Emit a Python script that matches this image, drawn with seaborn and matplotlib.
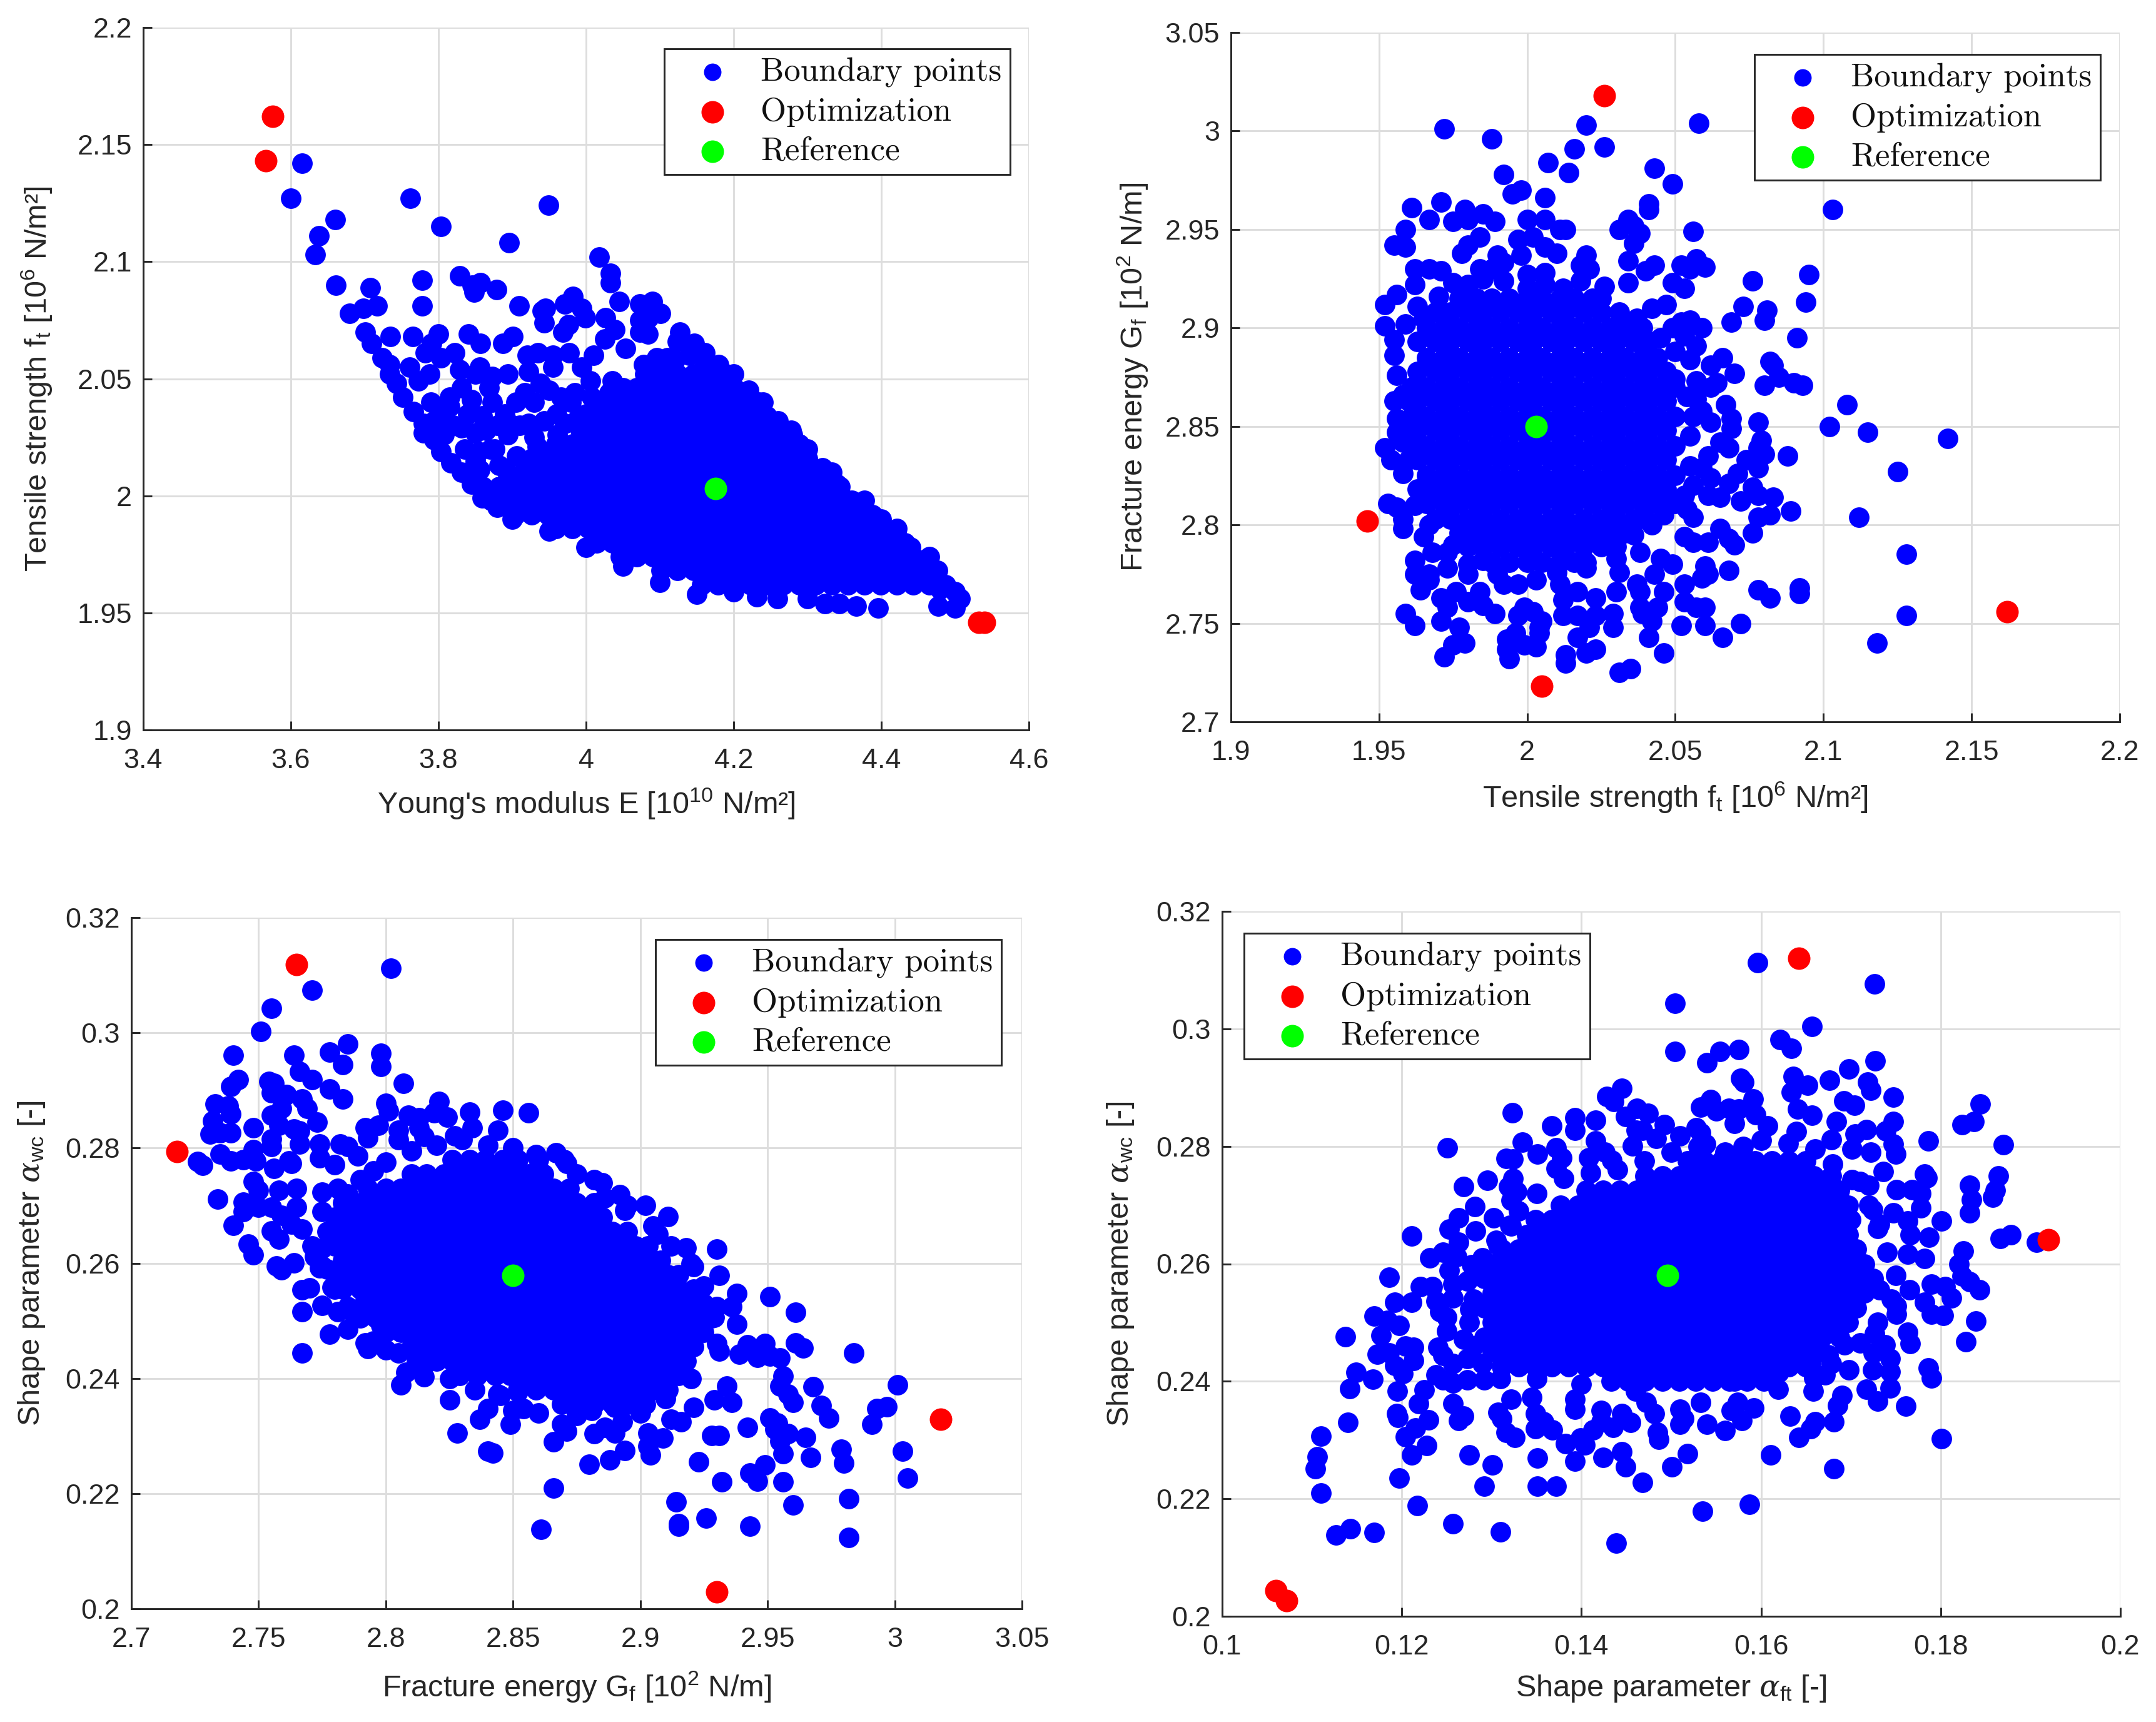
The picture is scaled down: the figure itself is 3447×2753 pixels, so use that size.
# -*- coding: utf-8 -*-
"""
Boundary points of the parameter identification, four pairwise projections.
All values read off the published figure.
"""
import pandas as pd
import matplotlib
matplotlib.use('Agg')
import matplotlib.pyplot as plt
import seaborn as sns

W, H = 3448, 2753

# --- Panel 1: Young's modulus vs tensile strength ---
p1_sparse = [
    (3.615,2.142),(3.6,2.127),(3.66,2.118),(3.638,2.111),(3.633,2.103),(3.661,2.09),(3.708,2.089),(3.68,2.078),
    (3.698,2.08),(3.717,2.081),(3.701,2.07),(3.709,2.065),(3.735,2.068),(3.765,2.068),(3.762,2.127),(3.803,2.115),
    (3.896,2.108),(3.949,2.124),(4.018,2.102),(4.033,2.095),(4.033,2.091),(3.778,2.092),(3.778,2.081),(3.829,2.094),
    (3.846,2.09),(3.848,2.087),(3.857,2.091),(3.879,2.088),(3.909,2.081),(3.941,2.079),(3.945,2.08),(3.943,2.074),
    (3.971,2.082),(3.982,2.085),(3.976,2.073),(3.969,2.07),(3.994,2.08),(3.999,2.076),(4.045,2.083),(4.026,2.076),
    (4.039,2.071),(4.025,2.067),(4.053,2.063),(4.073,2.082),(4.09,2.083),(4.101,2.078),(4.073,2.075),(4.085,2.076),
    (4.073,2.07),(4.084,2.069),(4.127,2.07),(4.124,2.066),(4.147,2.065),(4.161,2.061),(4.18,2.056),(3.8,2.069),
    (3.791,2.065),(3.782,2.061),(3.822,2.061),(3.803,2.059),(3.829,2.054),(3.856,2.055),(3.85,2.052),(3.841,2.069),
    (3.857,2.065),(3.901,2.068),(3.887,2.065),(3.92,2.06),(3.935,2.061),(3.955,2.06),(3.977,2.061),(4.01,2.06),
    (3.955,2.055),(3.994,2.055),(3.922,2.053),(3.938,2.048),(3.894,2.052),(3.873,2.051),(3.788,2.052),(3.773,2.049),
    (3.761,2.055),(3.917,2.044),(3.869,2.046),(3.831,2.046),(3.815,2.042),(3.815,2.038),(3.845,2.041),(3.873,2.04),
    (3.859,2.034),(3.89,2.035),(3.896,2.031),(3.831,2.029),(3.85,2.027),(3.864,2.028),(3.894,2.026),(3.922,2.031),
    (3.943,2.032),(3.966,2.042),(3.985,2.044),(4.008,2.042),(4.006,2.049),(4.036,2.049),(4.05,2.046),(4.031,2.044),
    (4.078,2.056),(4.096,2.059),(4.11,2.059),(3.724,2.059),(3.734,2.056),(3.734,2.052),(3.743,2.048),(3.752,2.042),
    (3.766,2.036),(3.78,2.031),(3.794,2.032),(3.78,2.027),(3.794,2.024),(3.808,2.026),(3.803,2.019),(3.817,2.014),
    (3.831,2.01),(3.845,2.005),(3.859,1.999),(3.836,2.02),(3.854,2.019),(3.876,2.02),(3.856,2.011),(3.882,2.013),
    (3.906,2.017),(3.934,2.021),(3.961,2.026),(3.989,2.033),(4.017,2.037),(3.971,2.031),(4.30,1.956),(4.324,1.954),
    (4.343,1.954),(4.366,1.953),(4.396,1.952),(4.477,1.953),(4.5,1.952),(4.5,1.959),(4.507,1.956),(4.459,1.965),
    (4.231,1.957),(4.259,1.956),(4.20,1.959),(3.79,2.04),(3.805,2.035),(3.82,2.03),(3.84,2.035),(3.88,2.03),
    (3.905,2.04),(3.93,2.04),(3.95,2.045),(3.96,2.035),(3.98,2.04),(4.0,2.035),(3.93,2.025),(3.85,2.015),(3.87,2.02),
    (3.84,2.01),(3.91,2.03),(4.14,2.06),(4.12,2.058),(4.16,2.055),(4.2,2.052),(4.22,2.045),(4.24,2.04),(4.26,2.032),
    (4.28,2.026),(4.30,2.02),(4.32,2.012),(4.34,2.005),(4.36,1.998),(4.40,1.99),(4.42,1.985),(4.44,1.978),
    (4.46,1.973),(4.47,1.967),(4.48,1.96),(3.88,1.995),(3.9,1.99),(3.95,1.985),(4.0,1.978),(4.05,1.97),(4.1,1.963),
    (4.15,1.958),
]
p1_dense = [
    (2.052, [4.080,4.102,4.124,4.146,4.168,4.190]),
    (2.046, [4.047,4.069,4.091,4.113,4.135,4.157,4.179,4.201]),
    (2.040, [4.036,4.058,4.080,4.102,4.124,4.146,4.168,4.190,4.212,4.234]),
    (2.034, [4.003,4.025,4.047,4.069,4.091,4.113,4.135,4.157,4.179,4.201,4.223,4.245]),
    (2.028, [3.992,4.014,4.036,4.058,4.080,4.102,4.124,4.146,4.168,4.190,4.212,4.234,4.256,4.278]),
    (2.022, [3.959,3.981,4.003,4.025,4.047,4.069,4.091,4.113,4.135,4.157,4.179,4.201,4.223,4.245,4.267,4.289]),
    (2.016, [3.926,3.948,3.970,3.992,4.014,4.036,4.058,4.080,4.102,4.124,4.146,4.168,4.190,4.212,4.234,4.256,4.278,4.300]),
    (2.010, [3.893,3.915,3.937,3.959,3.981,4.003,4.025,4.047,4.069,4.091,4.113,4.135,4.157,4.179,4.201,4.223,4.245,4.267,4.289,4.311,4.333]),
    (2.004, [3.860,3.882,3.904,3.926,3.948,3.970,3.992,4.014,4.036,4.058,4.080,4.102,4.124,4.146,4.168,4.190,4.212,4.234,4.256,4.278,4.300,4.322,4.344]),
    (1.998, [3.871,3.893,3.915,3.937,3.959,3.981,4.003,4.025,4.047,4.069,4.091,4.113,4.135,4.157,4.179,4.201,4.223,4.245,4.267,4.289,4.311,4.333,4.355,4.377]),
    (1.992, [3.904,3.926,3.948,3.970,3.992,4.014,4.036,4.058,4.080,4.102,4.124,4.146,4.168,4.190,4.212,4.234,4.256,4.278,4.300,4.322,4.344,4.366,4.388]),
    (1.986, [3.959,3.981,4.003,4.025,4.047,4.069,4.091,4.113,4.135,4.157,4.179,4.201,4.223,4.245,4.267,4.289,4.311,4.333,4.355,4.377,4.399,4.421]),
    (1.980, [4.014,4.036,4.058,4.080,4.102,4.124,4.146,4.168,4.190,4.212,4.234,4.256,4.278,4.300,4.322,4.344,4.366,4.388,4.410,4.432]),
    (1.974, [4.047,4.069,4.091,4.113,4.135,4.157,4.179,4.201,4.223,4.245,4.267,4.289,4.311,4.333,4.355,4.377,4.399,4.421,4.443,4.465]),
    (1.968, [4.102,4.124,4.146,4.168,4.190,4.212,4.234,4.256,4.278,4.300,4.322,4.344,4.366,4.388,4.410,4.432,4.454,4.476]),
    (1.962, [4.157,4.179,4.201,4.223,4.245,4.267,4.289,4.311,4.333,4.355,4.377,4.399,4.421,4.443,4.465,4.487]),
]
p1_opt = [(3.575,2.162),(3.566,2.143),(4.532,1.946),(4.54,1.946)]
p1_ref = [(4.175,2.003)]

# --- Panel 2: tensile strength vs fracture energy ---
p2_sparse = [
    (1.972,3.001),(1.988,2.996),(2.02,3.003),(2.026,2.992),(2.016,2.991),(2.058,3.004),(2.007,2.984),(2.014,2.979),
    (1.992,2.978),(2.043,2.981),(2.049,2.973),(1.998,2.97),(1.995,2.968),(2.006,2.966),(2.041,2.963),(2.041,2.96),
    (2.103,2.96),(1.971,2.964),(1.961,2.961),(1.979,2.96),(1.985,2.958),(1.967,2.955),(1.975,2.954),(1.98,2.955),
    (1.989,2.954),(2.0,2.955),(2.006,2.955),(2.013,2.95),(2.011,2.95),(2.031,2.95),(2.034,2.955),(2.036,2.952),
    (2.038,2.948),(2.036,2.943),(1.959,2.95),(1.955,2.942),(1.959,2.941),(1.984,2.946),(1.98,2.942),(1.978,2.938),
    (1.997,2.945),(2.002,2.946),(2.006,2.941),(2.01,2.938),(1.998,2.937),(2.056,2.949),(2.02,2.937),(2.018,2.932),
    (2.021,2.93),(2.034,2.934),(2.043,2.932),(2.04,2.929),(2.034,2.923),(2.052,2.932),(2.055,2.93),(2.057,2.935),
    (2.06,2.931),(2.095,2.927),(2.076,2.924),(2.094,2.913),(2.073,2.911),(2.081,2.909),(2.08,2.904),(2.069,2.903),
    (2.091,2.895),(1.99,2.937),(1.992,2.933),(1.984,2.93),(1.988,2.93),(1.962,2.93),(1.967,2.93),(1.971,2.929),
    (1.962,2.922),(2.0,2.927),(2.006,2.928),(2.026,2.921),(2.053,2.92),(2.049,2.923),(1.952,2.912),(1.956,2.917),
    (1.952,2.901),(1.955,2.894),(1.955,2.886),(1.956,2.876),(1.963,2.911),(1.959,2.902),(2.059,2.9),(2.055,2.904),
    (2.049,2.9),(2.057,2.891),(2.053,2.896),(2.055,2.884),(2.066,2.885),(2.062,2.881),(2.07,2.877),(2.064,2.872),
    (2.057,2.873),(2.062,2.87),(2.05,2.874),(2.082,2.883),(2.083,2.881),(2.085,2.875),(2.08,2.871),(2.09,2.872),
    (2.093,2.871),(2.108,2.861),(2.102,2.85),(2.115,2.847),(2.142,2.844),(2.125,2.827),(2.078,2.852),(2.067,2.861),
    (2.069,2.854),(2.069,2.849),(2.062,2.852),(2.057,2.864),(2.059,2.858),(2.079,2.843),(2.08,2.836),(2.078,2.839),
    (2.088,2.835),(2.074,2.833),(2.078,2.829),(2.071,2.826),(2.065,2.842),(2.068,2.839),(2.061,2.835),(2.059,2.829),
    (2.062,2.824),(2.056,2.82),(2.068,2.821),(2.076,2.819),(2.061,2.815),(2.065,2.814),(2.078,2.815),(2.083,2.814),
    (2.072,2.812),(2.089,2.807),(2.078,2.804),(2.082,2.805),(2.112,2.804),(2.065,2.798),(2.076,2.796),(2.068,2.793),
    (2.07,2.79),(2.054,2.808),(2.056,2.804),(2.053,2.794),(2.056,2.791),(2.061,2.791),(2.128,2.785),(2.068,2.777),
    (2.06,2.779),(2.061,2.775),(2.059,2.773),(2.053,2.77),(2.045,2.783),(2.049,2.78),(2.038,2.786),(2.03,2.783),
    (2.031,2.776),(2.092,2.768),(2.092,2.765),(2.078,2.767),(2.082,2.763),(2.128,2.754),(2.118,2.74),(2.072,2.75),
    (2.066,2.743),(2.052,2.749),(2.06,2.749),(2.06,2.758),(2.057,2.758),(2.053,2.761),(2.046,2.735),(2.041,2.743),
    (2.042,2.751),(2.044,2.758),(2.038,2.758),(2.039,2.755),(2.046,2.766),(2.043,2.775),(2.037,2.77),(2.038,2.766),
    (2.029,2.748),(2.029,2.755),(2.03,2.766),(2.023,2.754),(2.021,2.748),(2.023,2.737),(2.02,2.735),(2.017,2.743),
    (2.012,2.754),(2.017,2.754),(2.017,2.766),(2.023,2.763),(2.011,2.77),(2.012,2.762),(2.035,2.727),(2.031,2.725),
    (2.013,2.734),(2.013,2.73),(2.005,2.751),(2.004,2.745),(2.003,2.738),(1.999,2.739),(1.994,2.732),(1.993,2.737),
    (1.993,2.742),(1.996,2.745),(2.004,2.748),(2.002,2.756),(1.999,2.758),(1.997,2.754),(1.989,2.755),(1.979,2.74),
    (1.975,2.739),(1.972,2.733),(1.977,2.748),(1.971,2.751),(1.962,2.749),(1.959,2.755),(1.985,2.759),(1.98,2.761),
    (1.976,2.766),(1.971,2.763),(1.973,2.758),(1.984,2.766),(1.98,2.775),(1.973,2.778),(1.967,2.775),(1.964,2.767),
    (1.962,2.775),(1.962,2.782),(1.967,2.772),(1.997,2.77),(2.003,2.772),(1.992,2.77),(1.958,2.798),(1.958,2.803),
    (1.953,2.811),(1.956,2.809),(1.952,2.839),(1.954,2.833),(1.958,2.826),(1.955,2.863),(1.956,2.847),(1.956,2.854),
    (1.965,2.794),(1.968,2.786),(1.973,2.786),(1.975,2.923),(1.98,2.922),(1.985,2.925),(1.992,2.924),(2.0,2.92),
    (2.006,2.922),(2.012,2.92),(2.018,2.924),(2.025,2.915),(2.031,2.908),(2.037,2.905),(2.042,2.91),(2.047,2.912),
    (2.052,2.903),(2.045,2.895),(2.05,2.888),(1.958,2.866),(1.958,2.842),(1.962,2.81),(1.967,2.8),(1.975,2.79),
    (1.98,2.78),(1.985,2.782),(1.99,2.775),(2.01,2.776),(2.02,2.778),(2.028,2.79),(2.036,2.795),(2.042,2.8),
    (2.046,2.805),(2.053,2.815),(2.055,2.83),(2.055,2.845),(2.056,2.855),(2.054,2.865),(1.97,2.916),(1.965,2.905),
]
p2_dense = [
    (2.915, [1.977,1.983,1.988,1.994,2.000,2.005,2.011,2.016,2.022]),
    (2.908, [1.969,1.974,1.980,1.985,1.991,1.997,2.002,2.008,2.013,2.019,2.025]),
    (2.900, [1.966,1.972,1.977,1.983,1.988,1.994,2.000,2.005,2.011,2.016,2.022,2.028,2.033,2.039]),
    (2.893, [1.963,1.969,1.974,1.980,1.985,1.991,1.997,2.002,2.008,2.013,2.019,2.025,2.030,2.036,2.041]),
    (2.885, [1.966,1.972,1.977,1.983,1.988,1.994,2.000,2.005,2.011,2.016,2.022,2.028,2.033,2.039,2.044]),
    (2.878, [1.963,1.969,1.974,1.980,1.985,1.991,1.997,2.002,2.008,2.013,2.019,2.025,2.030,2.036,2.041,2.047]),
    (2.870, [1.961,1.966,1.972,1.977,1.983,1.988,1.994,2.000,2.005,2.011,2.016,2.022,2.028,2.033,2.039,2.044,2.050]),
    (2.863, [1.960,1.963,1.969,1.974,1.980,1.985,1.991,1.997,2.002,2.008,2.013,2.019,2.025,2.030,2.036,2.041,2.047]),
    (2.855, [1.961,1.966,1.972,1.977,1.983,1.988,1.994,2.000,2.005,2.011,2.016,2.022,2.028,2.033,2.039,2.044,2.050]),
    (2.848, [1.960,1.963,1.969,1.974,1.980,1.985,1.991,1.997,2.002,2.008,2.013,2.019,2.025,2.030,2.036,2.041,2.047]),
    (2.840, [1.961,1.966,1.972,1.977,1.983,1.988,1.994,2.000,2.005,2.011,2.016,2.022,2.028,2.033,2.039,2.044,2.050]),
    (2.833, [1.960,1.963,1.969,1.974,1.980,1.985,1.991,1.997,2.002,2.008,2.013,2.019,2.025,2.030,2.036,2.041,2.047]),
    (2.825, [1.966,1.972,1.977,1.983,1.988,1.994,2.000,2.005,2.011,2.016,2.022,2.028,2.033,2.039,2.044,2.050]),
    (2.818, [1.963,1.969,1.974,1.980,1.985,1.991,1.997,2.002,2.008,2.013,2.019,2.025,2.030,2.036,2.041,2.047]),
    (2.811, [1.966,1.972,1.977,1.983,1.988,1.994,2.000,2.005,2.011,2.016,2.022,2.028,2.033,2.039,2.044,2.050]),
    (2.803, [1.969,1.974,1.980,1.985,1.991,1.997,2.002,2.008,2.013,2.019,2.025,2.030,2.036,2.040]),
    (2.796, [1.977,1.983,1.988,1.994,2.000,2.005,2.011,2.016,2.022,2.028,2.033]),
    (2.789, [1.980,1.985,1.991,1.997,2.002,2.008,2.013,2.019,2.025,2.030]),
    (2.781, [1.988,1.994,2.000,2.005,2.011,2.016,2.020]),
]
p2_opt = [(2.026,3.018),(1.946,2.802),(2.162,2.756),(2.005,2.718)]
p2_ref = [(2.003,2.85)]

# --- Panel 3: fracture energy vs shape parameter alpha_wc ---
p3_sparse = [
    (2.802,.3112),(2.771,.3074),(2.755,.3042),(2.751,.3002),(2.74,.2961),(2.764,.2961),(2.778,.2967),(2.785,.2981),
    (2.783,.2945),(2.798,.2964),(2.798,.2942),(2.807,.2912),(2.766,.2933),(2.771,.2919),(2.778,.2902),(2.783,.2885),
    (2.742,.2919),(2.739,.2907),(2.754,.2915),(2.756,.2912),(2.755,.2896),(2.761,.2893),(2.759,.2869),(2.755,.2857),
    (2.733,.2876),(2.738,.2873),(2.739,.2859),(2.732,.2847),(2.731,.2824),(2.735,.2826),(2.739,.2826),(2.748,.2835),
    (2.758,.284),(2.755,.2816),(2.755,.2802),(2.764,.2833),(2.767,.2885),(2.769,.2869),(2.773,.2845),(2.766,.283),
    (2.766,.2807),(2.774,.2807),(2.774,.2783),(2.78,.2771),(2.782,.2807),(2.785,.2802),(2.789,.2786),(2.726,.2776),
    (2.728,.277),(2.735,.2789),(2.739,.2778),(2.744,.278),(2.749,.2778),(2.748,.2797),(2.763,.2773),(2.756,.2764),
    (2.762,.2778),(2.748,.2742),(2.75,.2726),(2.765,.273),(2.758,.2727),(2.734,.2711),(2.744,.2706),(2.744,.269),
    (2.75,.2697),(2.755,.2697),(2.765,.2697),(2.775,.2723),(2.781,.273),(2.74,.2666),(2.755,.2656),(2.758,.2642),
    (2.759,.2683),(2.763,.2668),(2.767,.2659),(2.746,.2633),(2.748,.2615),(2.757,.2595),(2.759,.2589),(2.764,.2601),
    (2.771,.263),(2.772,.2611),(2.775,.2595),(2.774,.2592),(2.767,.2554),(2.77,.2557),(2.779,.2558),(2.767,.2516),
    (2.775,.2527),(2.781,.2516),(2.786,.2518),(2.778,.2477),(2.785,.2485),(2.767,.2444),(2.792,.2461),(2.793,.2452),
    (2.792,.2535),(2.798,.2492),(2.805,.2444),(2.808,.241),(2.806,.2389),(2.815,.2403),(2.817,.243),(2.825,.2363),
    (2.828,.2305),(2.8,.2878),(2.801,.2864),(2.792,.2835),(2.793,.2818),(2.797,.284),(2.809,.2857),(2.813,.2852),
    (2.821,.2881),(2.819,.2861),(2.824,.2854),(2.833,.2862),(2.846,.2866),(2.856,.2861),(2.834,.2835),(2.844,.2831),
    (2.827,.2821),(2.805,.2831),(2.813,.2835),(2.867,.2792),(2.871,.2773),(2.859,.2788),(2.882,.2745),(2.886,.2714),
    (2.892,.2719),(2.902,.27),(2.911,.2681),(2.907,.2651),(2.894,.2692),(2.918,.2627),(2.93,.2624),(2.921,.2594),
    (2.931,.2579),(2.938,.2547),(2.936,.2525),(2.951,.2542),(2.961,.2515),(2.938,.2494),(2.929,.2506),(2.961,.2461),
    (2.964,.2453),(2.984,.2444),(2.942,.2458),(2.949,.246),(2.939,.2442),(2.946,.2437),(2.955,.2436),(2.951,.2439),
    (2.931,.2447),(2.956,.2404),(2.955,.2387),(2.968,.2385),(3.001,.2389),(2.958,.2372),(2.96,.2358),(2.971,.2353),
    (2.974,.2331),(2.936,.2358),(2.934,.2387),(2.929,.2363),(2.921,.235),(2.997,.2351),(2.993,.2347),(2.991,.232),
    (2.951,.2331),(2.954,.2323),(2.953,.2312),(2.958,.2304),(2.965,.2298),(2.955,.2291),(2.956,.2269),(2.967,.2263),
    (2.979,.2277),(2.98,.2253),(3.003,.2274),(3.005,.2227),(2.942,.2315),(2.928,.2301),(2.931,.2301),(2.916,.2325),
    (2.912,.2329),(2.923,.2255),(2.909,.2296),(2.903,.2305),(2.903,.2282),(2.904,.2267),(2.894,.2275),(2.888,.2258),
    (2.88,.2251),(2.89,.2305),(2.882,.2304),(2.886,.2315),(2.893,.2325),(2.875,.2336),(2.881,.2344),(2.869,.232),
    (2.871,.2308),(2.866,.229),(2.837,.2329),(2.84,.2347),(2.84,.2274),(2.842,.227),(2.849,.232),(2.85,.2344),
    (2.854,.2347),(2.844,.2372),(2.852,.2377),(2.866,.221),(2.861,.2138),(2.914,.2186),(2.915,.2148),(2.915,.2143),
    (2.926,.2158),(2.932,.222),(2.943,.2236),(2.946,.2221),(2.949,.225),(2.956,.222),(2.96,.218),(2.943,.2143),
    (2.982,.2191),(2.982,.2124),(2.80,.2775),(2.81,.2795),(2.82,.2805),(2.83,.2815),(2.84,.2805),(2.85,.28),
    (2.86,.278),(2.805,.2815),(2.815,.282),(2.795,.276),(2.79,.2745),(2.785,.272),(2.775,.269),(2.78,.2645),
    (2.775,.2625),(2.777,.259),(2.78,.2555),(2.785,.2525),(2.79,.2505),(2.795,.2465),(2.8,.245),(2.812,.243),
    (2.825,.24),(2.835,.238),(2.845,.237),(2.86,.234),(2.875,.234),(2.89,.235),(2.9,.234),(2.91,.2365),(2.92,.24),
    (2.93,.246),(2.93,.2525),(2.925,.256),(2.92,.26),(2.912,.263),(2.905,.2665),(2.895,.27),(2.885,.274),
    (2.875,.2755),(2.87,.278),
]
p3_dense = [
    (.2780, [2.826,2.833,2.839,2.846,2.852]),
    (.2755, [2.810,2.816,2.823,2.829,2.836,2.843,2.849,2.856,2.862]),
    (.2730, [2.793,2.800,2.806,2.813,2.820,2.826,2.833,2.839,2.846,2.852,2.859,2.866,2.872]),
    (.2705, [2.783,2.790,2.796,2.803,2.810,2.816,2.823,2.829,2.836,2.843,2.849,2.856,2.862,2.869,2.875,2.882]),
    (.2680, [2.780,2.787,2.793,2.800,2.806,2.813,2.820,2.826,2.833,2.839,2.846,2.852,2.859,2.866,2.872,2.879,2.885]),
    (.2655, [2.777,2.783,2.790,2.796,2.803,2.810,2.816,2.823,2.829,2.836,2.843,2.849,2.856,2.862,2.869,2.875,2.882,2.889,2.895]),
    (.2630, [2.780,2.787,2.793,2.800,2.806,2.813,2.820,2.826,2.833,2.839,2.846,2.852,2.859,2.866,2.872,2.879,2.885,2.892,2.898,2.903]),
    (.2605, [2.783,2.790,2.796,2.803,2.810,2.816,2.823,2.829,2.836,2.843,2.849,2.856,2.862,2.869,2.875,2.882,2.889,2.895,2.902,2.908]),
    (.2580, [2.782,2.787,2.793,2.800,2.806,2.813,2.820,2.826,2.833,2.839,2.846,2.852,2.859,2.866,2.872,2.879,2.885,2.892,2.898,2.905,2.911,2.915]),
    (.2555, [2.783,2.790,2.796,2.803,2.810,2.816,2.823,2.829,2.836,2.843,2.849,2.856,2.862,2.869,2.875,2.882,2.889,2.895,2.902,2.908,2.915,2.921]),
    (.2530, [2.793,2.800,2.806,2.813,2.820,2.826,2.833,2.839,2.846,2.852,2.859,2.866,2.872,2.879,2.885,2.892,2.898,2.905,2.911,2.918,2.925]),
    (.2505, [2.796,2.803,2.810,2.816,2.823,2.829,2.836,2.843,2.849,2.856,2.862,2.869,2.875,2.882,2.889,2.895,2.902,2.908,2.915,2.921,2.928]),
    (.2480, [2.800,2.806,2.813,2.820,2.826,2.833,2.839,2.846,2.852,2.859,2.866,2.872,2.879,2.885,2.892,2.898,2.905,2.911,2.918,2.925]),
    (.2455, [2.810,2.816,2.823,2.829,2.836,2.843,2.849,2.856,2.862,2.869,2.875,2.882,2.889,2.895,2.902,2.908,2.915,2.921]),
    (.2430, [2.820,2.826,2.833,2.839,2.846,2.852,2.859,2.866,2.872,2.879,2.885,2.892,2.898,2.905,2.911,2.918]),
    (.2405, [2.829,2.836,2.843,2.849,2.856,2.862,2.869,2.875,2.882,2.889,2.895,2.902,2.908,2.915]),
    (.2380, [2.852,2.859,2.866,2.872,2.879,2.885,2.892,2.898,2.905,2.911]),
    (.2355, [2.869,2.875,2.882,2.889,2.895,2.902]),
]
p3_opt = [(2.765,.3119),(2.718,.2794),(3.018,.2329),(2.93,.2029)]
p3_ref = [(2.85,.2579)]

# --- Panel 4: shape parameter alpha_ft vs alpha_wc ---
p4_sparse = [
    (.1596,.3113),(.1726,.3076),(.1504,.3044),(.1657,.3004),(.1504,.2961),(.1554,.2961),(.1575,.2965),(.1621,.2982),
    (.1634,.2967),(.154,.2942),(.1727,.2945),(.1698,.2932),(.1636,.2919),(.1676,.2913),(.1652,.2904),(.1634,.2892),
    (.1577,.2916),(.1581,.2909),(.1719,.2909),(.1722,.2896),(.1747,.2884),(.1591,.2881),(.1692,.2877),(.1704,.287),
    (.1445,.2899),(.1428,.2885),(.1436,.2876),(.1449,.2851),(.1462,.2865),(.1474,.2856),(.1544,.2879),(.1533,.2867),
    (.155,.286),(.1564,.2865),(.1575,.2863),(.1594,.2854),(.1641,.2863),(.1657,.2853),(.157,.2839),(.1607,.2835),
    (.1639,.2825),(.1684,.2842),(.1747,.2842),(.1739,.2826),(.1717,.2828),(.1705,.2821),(.1678,.2811),(.1824,.2837),
    (.1837,.2842),(.1844,.2872),(.187,.2803),(.1786,.2809),(.1747,.2804),(.175,.2787),(.1722,.279),(.1701,.2795),
    (.1323,.2857),(.1367,.2835),(.1393,.2849),(.1393,.2827),(.1416,.2844),(.1416,.2809),(.1334,.2807),(.1251,.2798),
    (.1372,.2797),(.1351,.2787),(.1378,.2781),(.1316,.2779),(.1324,.2778),(.1408,.2781),(.1426,.279),(.1434,.2776),
    (.1457,.2801),(.1461,.2827),(.1468,.2827),(.1492,.2837),(.1483,.2813),(.151,.2818),(.1528,.2832),(.1533,.2823),
    (.1538,.2804),(.1372,.2762),(.1295,.2742),(.1269,.2732),(.1324,.2745),(.1319,.2732),(.1328,.2723),(.1322,.2708),
    (.1281,.2697),(.1263,.2678),(.1253,.2659),(.1282,.2656),(.1263,.2637),(.1302,.2678),(.1322,.2664),(.1211,.2647),
    (.1231,.261),(.1246,.262),(.1261,.2612),(.1278,.2598),(.1292,.2589),(.1253,.2589),(.1307,.2631),(.1186,.2577),
    (.1221,.2561),(.1234,.2561),(.1257,.2565),(.1273,.2571),(.1192,.2535),(.1211,.2535),(.1238,.2537),(.1257,.2542),
    (.1169,.2511),(.1184,.2504),(.1197,.2495),(.1177,.2478),(.1137,.2476),(.125,.2509),(.1242,.2519),(.1276,.2523),
    (.125,.2486),(.1173,.2446),(.1186,.2448),(.1204,.246),(.1213,.2458),(.1192,.2427),(.1213,.2436),(.1201,.2413),
    (.1149,.2415),(.1168,.2404),(.1142,.2388),(.1195,.2383),(.1225,.2385),(.1219,.2362),(.1238,.2411),(.1246,.2402),
    (.124,.2458),(.1246,.2444),(.1257,.243),(.1273,.2439),(.1257,.2397),(.1273,.2402),(.1292,.2402),(.1269,.2472),
    (.1194,.2345),(.1196,.2339),(.114,.233),(.123,.2334),(.1215,.232),(.1204,.2306),(.1211,.2275),(.1228,.2291),
    (.111,.2307),(.1106,.2272),(.1104,.2251),(.111,.221),(.1197,.2235),(.1217,.2188),(.1127,.2138),(.1143,.2149),
    (.1169,.2143),(.1257,.2158),(.131,.2144),(.1257,.2362),(.1263,.2333),(.1269,.2341),(.1275,.2275),(.1301,.2258),
    (.1292,.2222),(.1307,.2347),(.1311,.2336),(.1316,.2313),(.1326,.2305),(.1322,.2369),(.1345,.2373),(.1349,.2345),
    (.1349,.2319),(.1358,.2331),(.1368,.2317),(.1382,.2294),(.1351,.2269),(.1351,.2222),(.1372,.2222),(.1393,.2369),
    (.1393,.2352),(.1399,.2303),(.1404,.2292),(.1393,.2264),(.1413,.2317),(.1422,.235),(.1422,.2331),(.1435,.2322),
    (.1445,.2345),(.1455,.233),(.1424,.227),(.1445,.228),(.1449,.2255),(.1468,.2228),(.1485,.2313),(.1486,.2301),
    (.1501,.2254),(.1518,.2277),(.1481,.2345),(.1472,.2364),(.146,.2383),(.151,.2352),(.151,.2327),(.1514,.2336),
    (.1533,.2364),(.154,.2327),(.156,.2316),(.1567,.235),(.1574,.2364),(.1579,.2333),(.1592,.2355),(.1632,.2341),
    (.1619,.2386),(.1658,.2383),(.1642,.2305),(.1655,.2319),(.166,.2331),(.1681,.2331),(.1685,.2359),(.169,.2376),
    (.1717,.2387),(.173,.2366),(.1761,.2358),(.1744,.2389),(.1801,.2302),(.1611,.2275),(.1681,.2251),(.1587,.2191),
    (.1535,.2179),(.1439,.2125),(.1698,.242),(.1671,.2411),(.1659,.2406),(.1678,.243),(.1693,.2462),(.1724,.242),
    (.1744,.2439),(.1744,.2416),(.1725,.2448),(.1738,.2462),(.1726,.2481),(.1763,.2483),(.1766,.2464),(.1751,.2528),
    (.1732,.2556),(.1751,.2514),(.1786,.2423),(.179,.2406),(.1828,.2467),(.1839,.2503),(.1843,.2556),(.1832,.257),
    (.1824,.2579),(.182,.26),(.1825,.2622),(.1812,.2542),(.1805,.2561),(.179,.2565),(.179,.2514),(.1782,.2535),
    (.1803,.2512),(.1765,.2556),(.1782,.2609),(.1763,.2617),(.1787,.2645),(.1801,.2673),(.1778,.2695),(.1763,.2673),
    (.1766,.265),(.1747,.2687),(.1732,.2668),(.1724,.2692),(.1751,.2726),(.1768,.2726),(.1778,.272),(.172,.2734),
    (.1701,.2743),(.1736,.2757),(.1782,.2753),(.1785,.2746),(.1832,.2734),(.1834,.2709),(.1832,.2687),(.1864,.275),
    (.1861,.2725),(.1858,.2713),(.1866,.2643),(.1878,.265),(.1907,.2637),(.135,.272),(.138,.2745),(.141,.2755),
    (.144,.276),(.147,.2775),(.15,.279),(.153,.28),(.156,.279),(.158,.28),(.16,.281),(.163,.2805),(.166,.2795),
    (.168,.277),(.171,.274),(.172,.27),(.173,.266),(.174,.262),(.175,.258),(.1745,.254),(.173,.25),(.171,.2465),
    (.1675,.2445),(.1655,.243),(.162,.2415),(.157,.24),(.14,.2395),(.135,.2405),(.131,.2405),(.129,.243),(.128,.246),
    (.1275,.25),(.128,.254),(.1285,.258),(.129,.261),(.1305,.264),(.132,.2665),(.133,.269),
]
p4_dense = [
    (.2775, [.1518,.1537,.1556,.1574,.1593,.1612,.1631,.1650]),
    (.2750, [.1471,.1490,.1509,.1527,.1546,.1565,.1584,.1603,.1621,.1640,.1659,.1678]),
    (.2725, [.1405,.1424,.1443,.1462,.1480,.1499,.1518,.1537,.1556,.1574,.1593,.1612,.1631,.1650,.1668,.1687]),
    (.2700, [.1377,.1396,.1414,.1433,.1452,.1471,.1490,.1509,.1527,.1546,.1565,.1584,.1603,.1621,.1640,.1659,.1678,.1697]),
    (.2675, [.1349,.1367,.1386,.1405,.1424,.1443,.1462,.1480,.1499,.1518,.1537,.1556,.1574,.1593,.1612,.1631,.1650,.1668,.1687,.1700]),
    (.2650, [.1339,.1358,.1377,.1396,.1414,.1433,.1452,.1471,.1490,.1509,.1527,.1546,.1565,.1584,.1603,.1621,.1640,.1659,.1678,.1697]),
    (.2625, [.1311,.1330,.1349,.1367,.1386,.1405,.1424,.1443,.1462,.1480,.1499,.1518,.1537,.1556,.1574,.1593,.1612,.1631,.1650,.1668,.1687,.1706]),
    (.2600, [.1301,.1320,.1339,.1358,.1377,.1396,.1414,.1433,.1452,.1471,.1490,.1509,.1527,.1546,.1565,.1584,.1603,.1621,.1640,.1659,.1678,.1697,.1715]),
    (.2575, [.1292,.1311,.1330,.1349,.1367,.1386,.1405,.1424,.1443,.1462,.1480,.1499,.1518,.1537,.1556,.1574,.1593,.1612,.1631,.1650,.1668,.1687,.1706,.1725]),
    (.2550, [.1301,.1320,.1339,.1358,.1377,.1396,.1414,.1433,.1452,.1471,.1490,.1509,.1527,.1546,.1565,.1584,.1603,.1621,.1640,.1659,.1678,.1697,.1715]),
    (.2525, [.1292,.1311,.1330,.1349,.1367,.1386,.1405,.1424,.1443,.1462,.1480,.1499,.1518,.1537,.1556,.1574,.1593,.1612,.1631,.1650,.1668,.1687,.1706]),
    (.2500, [.1301,.1320,.1339,.1358,.1377,.1396,.1414,.1433,.1452,.1471,.1490,.1509,.1527,.1546,.1565,.1584,.1603,.1621,.1640,.1659,.1678,.1697]),
    (.2475, [.1292,.1311,.1330,.1349,.1367,.1386,.1405,.1424,.1443,.1462,.1480,.1499,.1518,.1537,.1556,.1574,.1593,.1612,.1631,.1650,.1668,.1687]),
    (.2450, [.1301,.1320,.1339,.1358,.1377,.1396,.1414,.1433,.1452,.1471,.1490,.1509,.1527,.1546,.1565,.1584,.1603,.1621,.1640,.1659]),
    (.2425, [.1311,.1330,.1349,.1367,.1386,.1405,.1424,.1443,.1462,.1480,.1499,.1518,.1537,.1556,.1574,.1593,.1612,.1631,.1650]),
    (.2400, [.1433,.1452,.1471,.1490,.1509,.1527,.1546,.1565,.1584,.1603]),
]
p4_opt = [(.1642,.312),(.192,.2641),(.106,.2044),(.1072,.2027)]
p4_ref = [(.1496,.258)]

# --- axes labels and ticks ---
xlabels = ["Young's modulus E [$10^{10}$ N/m²]",
           "Tensile strength f$_{\\mathrm{t}}$ [$10^{6}$ N/m²]",
           "Fracture energy G$_{\\mathrm{f}}$ [$10^{2}$ N/m]",
           "Shape parameter $\\alpha_{\\mathrm{ft}}$ [-]"]
ylabels = ["Tensile strength f$_{\\mathrm{t}}$ [$10^{6}$ N/m²]",
           "Fracture energy G$_{\\mathrm{f}}$ [$10^{2}$ N/m]",
           "Shape parameter $\\alpha_{\\mathrm{wc}}$ [-]",
           "Shape parameter $\\alpha_{\\mathrm{wc}}$ [-]"]
xticks = [[3.4,3.6,3.8,4,4.2,4.4,4.6], [1.9,1.95,2,2.05,2.1,2.15,2.2],
          [2.7,2.75,2.8,2.85,2.9,2.95,3,3.05], [0.1,0.12,0.14,0.16,0.18,0.2]]
yticks = [[1.9,1.95,2,2.05,2.1,2.15,2.2], [2.7,2.75,2.8,2.85,2.9,2.95,3,3.05],
          [0.2,0.22,0.24,0.26,0.28,0.3,0.32], [0.2,0.22,0.24,0.26,0.28,0.3,0.32]]
legend_labels = ['Boundary points', 'Optimization', 'Reference']

# pixel boxes of the axes and the legends in the target image
AXES_PX = [(229,44,1645,1167), (1968,52,3389,1154), (210,1467,1634,2572), (1954,1457,3390,2584)]
LEGEND_PX = [(1062,78), (2805,87), (1048,1502), (1989,1492)]
XPAD = [7.5, 8.5, 10, 7.5]
YPAD = [13, 8.5, 10.5, 11.5]

sns.set_theme(style='whitegrid')
plt.rcParams['font.family'] = ['Liberation Sans']
plt.rcParams['mathtext.fontset'] = 'custom'
plt.rcParams['mathtext.rm'] = 'Liberation Sans'
plt.rcParams['mathtext.it'] = 'DejaVu Serif:italic'
plt.rcParams['axes.unicode_minus'] = False

DARK = '#262626'
BLUE_S, RED_S = 140, 168


def boundary_frame(sparse, dense):
    xs = [p[0] for p in sparse]
    ys = [p[1] for p in sparse]
    for y, row in dense:
        xs += row
        ys += [y] * len(row)
    return pd.DataFrame({'x': xs, 'y': ys})


def pts_frame(pts):
    return pd.DataFrame(pts, columns=['x', 'y'])


panels = [(p1_sparse, p1_dense, p1_opt, p1_ref), (p2_sparse, p2_dense, p2_opt, p2_ref),
          (p3_sparse, p3_dense, p3_opt, p3_ref), (p4_sparse, p4_dense, p4_opt, p4_ref)]

fig = plt.figure(figsize=(W / 200, H / 200), dpi=200)
for i, (sparse, dense, opt, ref) in enumerate(panels):
    l, t, r, b = AXES_PX[i]
    ax = fig.add_axes([l / W, 1 - b / H, (r - l) / W, (b - t) / H])
    sns.scatterplot(data=boundary_frame(sparse, dense), x='x', y='y', color='#0000ff', s=BLUE_S,
                    linewidth=0, ax=ax, label=legend_labels[0], clip_on=False, zorder=3)
    sns.scatterplot(data=pts_frame(opt), x='x', y='y', color='#ff0000', s=RED_S,
                    linewidth=0, ax=ax, label=legend_labels[1], clip_on=False, zorder=4)
    sns.scatterplot(data=pts_frame(ref), x='x', y='y', color='#00ff00', s=RED_S,
                    linewidth=0, ax=ax, label=legend_labels[2], clip_on=False, zorder=5)

    ax.set_xlim(xticks[i][0], xticks[i][-1])
    ax.set_ylim(yticks[i][0], yticks[i][-1])
    ax.set_xticks(xticks[i])
    ax.set_yticks(yticks[i])
    ax.set_xticklabels(['%g' % v for v in xticks[i]])
    ax.set_yticklabels(['%g' % v for v in yticks[i]])
    ax.set_xlabel(xlabels[i], fontsize=17.5, color=DARK, labelpad=XPAD[i])
    ax.set_ylabel(ylabels[i], fontsize=17.5, color=DARK, labelpad=YPAD[i])
    ax.tick_params(axis='both', direction='in', length=5, width=1.05, color=DARK,
                   labelsize=16.2, labelcolor=DARK, bottom=True, left=True)
    ax.tick_params(axis='x', pad=10.5)
    ax.tick_params(axis='y', pad=6.5)
    ax.grid(True, color='#dddddd', linewidth=1.05)
    ax.set_axisbelow(True)
    sns.despine(ax=ax)
    for side in ('left', 'bottom'):
        ax.spines[side].set_color(DARK)
        ax.spines[side].set_linewidth(1.05)
        ax.spines[side].set_zorder(6)

    lx, ly = LEGEND_PX[i]
    leg = ax.legend(loc='upper left', bbox_to_anchor=(lx / W, 1 - ly / H), bbox_transform=fig.transFigure,
                    borderaxespad=0, fancybox=False, framealpha=1, edgecolor=DARK, facecolor='white',
                    prop={'family': 'cmr10', 'size': 19}, labelspacing=0.31, handletextpad=0.25,
                    borderpad=0.25, handlelength=2.42)
    leg.get_frame().set_linewidth(1.05)
    leg.set_zorder(10)
    leg.legend_handles[0].set_sizes([101])
    for txt in leg.get_texts():
        txt.set_color('#111111')

fig.savefig('out.png', dpi=200, facecolor='white')
